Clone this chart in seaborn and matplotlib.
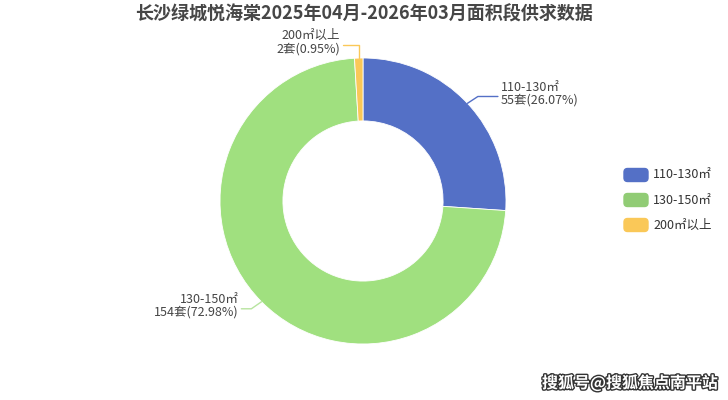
import numpy as np
import matplotlib
matplotlib.use("Agg")
import matplotlib.pyplot as plt
import matplotlib.patheffects as pe
from matplotlib.patches import FancyBboxPatch
import seaborn as sns

sns.set_theme(style="white")
plt.rcParams['font.family'] = ['Noto Sans CJK SC', 'DejaVu Sans']

# data
categories = ["110-130㎡", "130-150㎡", "200㎡以上"]
counts = [55, 154, 2]
percents = ["26.07%", "72.98%", "0.95%"]
pie_colors = ["#5470c6", "#a0e07f", "#fac858"]
legend_colors = ["#5470c6", "#91cc75", "#fac858"]
title = "长沙绿城悦海棠2025年04月-2026年03月面积段供求数据"

W, H = 728, 400
fig = plt.figure(figsize=(W / 100, H / 100), dpi=100)
cx, cy, R = 363, 201, 143
ax = fig.add_axes([(cx - R) / W, (H - cy - R) / H, 2 * R / W, 2 * R / H])

wedges, _ = ax.pie(counts, colors=pie_colors, startangle=90, counterclock=False,
                   radius=1.0, wedgeprops=dict(width=0.44, edgecolor="white", linewidth=0.6))
ax.set_xlim(-1, 1)
ax.set_ylim(-1, 1)
ax.set_aspect("equal")
ax.axis("off")

# labels with leader lines
txt_color = "#454545"
for i, w in enumerate(wedges):
    mid = np.deg2rad((w.theta1 + w.theta2) / 2)
    x0, y0 = np.cos(mid), np.sin(mid)
    lbl = f"{categories[i]}\n{counts[i]}套({percents[i]})"
    if i == 2:
        x1, y1 = x0, 1.09
        x2 = x0 - 0.11
        ha = "right"
    else:
        x1, y1 = x0 * 1.1, y0 * 1.07
        x2 = x1 + (0.14 if x0 > 0 else -0.07)
        ha = "left" if x0 > 0 else "right"
    ax.plot([x0, x1, x2], [y0, y1, y1], color=pie_colors[i] if i != 1 else "#b7e49f",
            lw=1, clip_on=False)
    tx = x2 + (0.02 if ha == "left" else -0.02)
    ax.text(tx, y1 + 0.02, lbl, ha=ha, va="center", fontsize=9, color=txt_color,
            linespacing=1.0, clip_on=False)

fig.text(364 / W, 1 - 14 / H, title, ha="center", va="center", fontsize=13,
         fontweight="bold", color="#464646")

# legend
for i, cat in enumerate(categories):
    ly = 175 + i * 25
    fig.patches.append(FancyBboxPatch((624 / W, 1 - (ly + 6.5) / H), 24 / W, 13 / H,
                                      boxstyle="round,pad=0,rounding_size=0.005",
                                      transform=fig.transFigure, color=legend_colors[i],
                                      mutation_aspect=W / H))
    fig.text(653 / W, 1 - ly / H, cat, ha="left", va="center", fontsize=9, color="#333333")

fig.text(718 / W, 1 - 383 / H, "搜狐号@搜狐焦点南平站", ha="right", va="center",
         fontsize=11.5, color="white", fontweight="bold",
         path_effects=[pe.withStroke(linewidth=2, foreground="#333333")])

fig.savefig("out.png", dpi=100)
